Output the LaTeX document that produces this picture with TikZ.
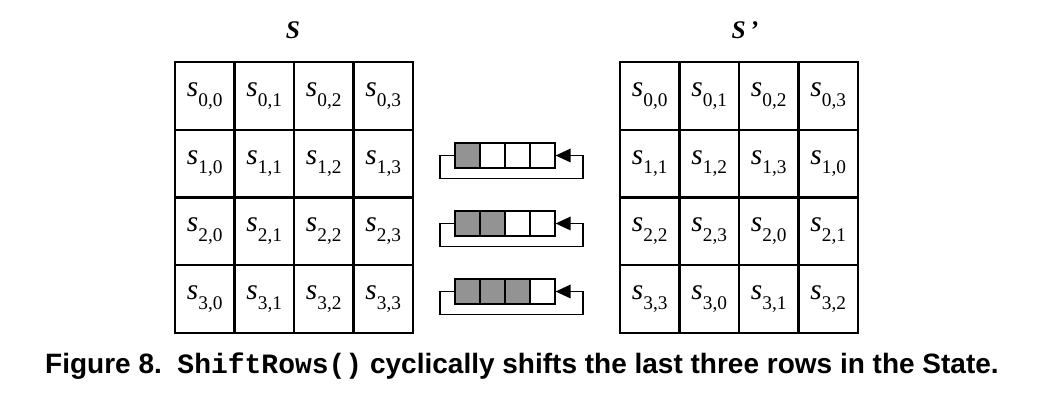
\documentclass[tikz,border=0pt]{standalone}
\usepackage{fontspec}
\setmainfont{Liberation Serif}
\setsansfont{Liberation Sans}
\setmonofont{Liberation Mono}
\begin{document}
\begin{tikzpicture}[x=0.75pt,y=-0.75pt,
  cell/.style={font=\fontsize{22}{22}\selectfont},
  reg/.style={draw,line width=1pt,minimum width=18.75pt,minimum height=18.75pt,inner sep=0},
  grid/.style={line width=1.6pt}]
\useasboundingbox (0,0) rectangle (1040,406);
\newcommand{\sv}[2]{{\itshape s}\raisebox{-0.33em}{\fontsize{14.5}{14.5}\selectfont #1,#2}}
% grids
\foreach \gx in {175,620}{
  \draw[grid] (\gx,62) rectangle (\gx+238,333);
  \foreach \i in {1,2,3}{
    \draw[grid] (\gx+\i*59.5,62) -- (\gx+\i*59.5,333);
    \draw[grid] (\gx,62+\i*67.75) -- (\gx+238,62+\i*67.75);}
}
\node[font=\bfseries\itshape\fontsize{19}{19}\selectfont] (tl) at (293,30) {S};
\node[font=\bfseries\itshape\fontsize{19}{19}\selectfont] (tr) at (745,30) {S\,'};
\foreach \r in {0,...,3}{
  \foreach \c in {0,...,3}{
    \pgfmathtruncatemacro{\cc}{mod(\c+\r,4)}
    \node[cell] (L\r\c) at (175+29.75+\c*59.5,62+33.9+\r*67.75) {\sv{\r}{\c}};
    \node[cell] (R\r\c) at (620+29.75+\c*59.5,62+33.9+\r*67.75) {\sv{\r}{\cc}};
  }}
% shift registers
\foreach \r/\n in {1/1,2/2,3/3}{
  \pgfmathsetmacro{\yc}{155.5+(\r-1)*68}
  \foreach \k in {0,...,3}{
    \pgfmathtruncatemacro{\fill}{\k<\n ? 1 : 0}
    \ifnum\fill=1
      \node[reg,fill=gray!85] (b\r\k) at (467.5+\k*25,\yc) {};
    \else
      \node[reg,fill=white] (b\r\k) at (467.5+\k*25,\yc) {};
    \fi}
  \coordinate (p\r a) at (455,\yc);
  \coordinate (p\r b) at (440,\yc);
  \coordinate (p\r c) at (440,\yc+23);
  \coordinate (p\r d) at (583,\yc+23);
  \coordinate (p\r e) at (583,\yc);
  \draw[line width=1pt] (p\r a) -- (p\r b) -- (p\r c) -- (p\r d) -- (p\r e) -- (b\r3.east);
  \fill (b\r3.east) -- ++(15,-7) -- ++(0,14) -- cycle;
}
\node[font=\sffamily\bfseries\fontsize{21}{21}\selectfont] (cap) at (522,366)
  {Figure 8.\ \ {\ttfamily ShiftRows()} cyclically shifts the last three rows in the State.};
\end{tikzpicture}
\end{document}
